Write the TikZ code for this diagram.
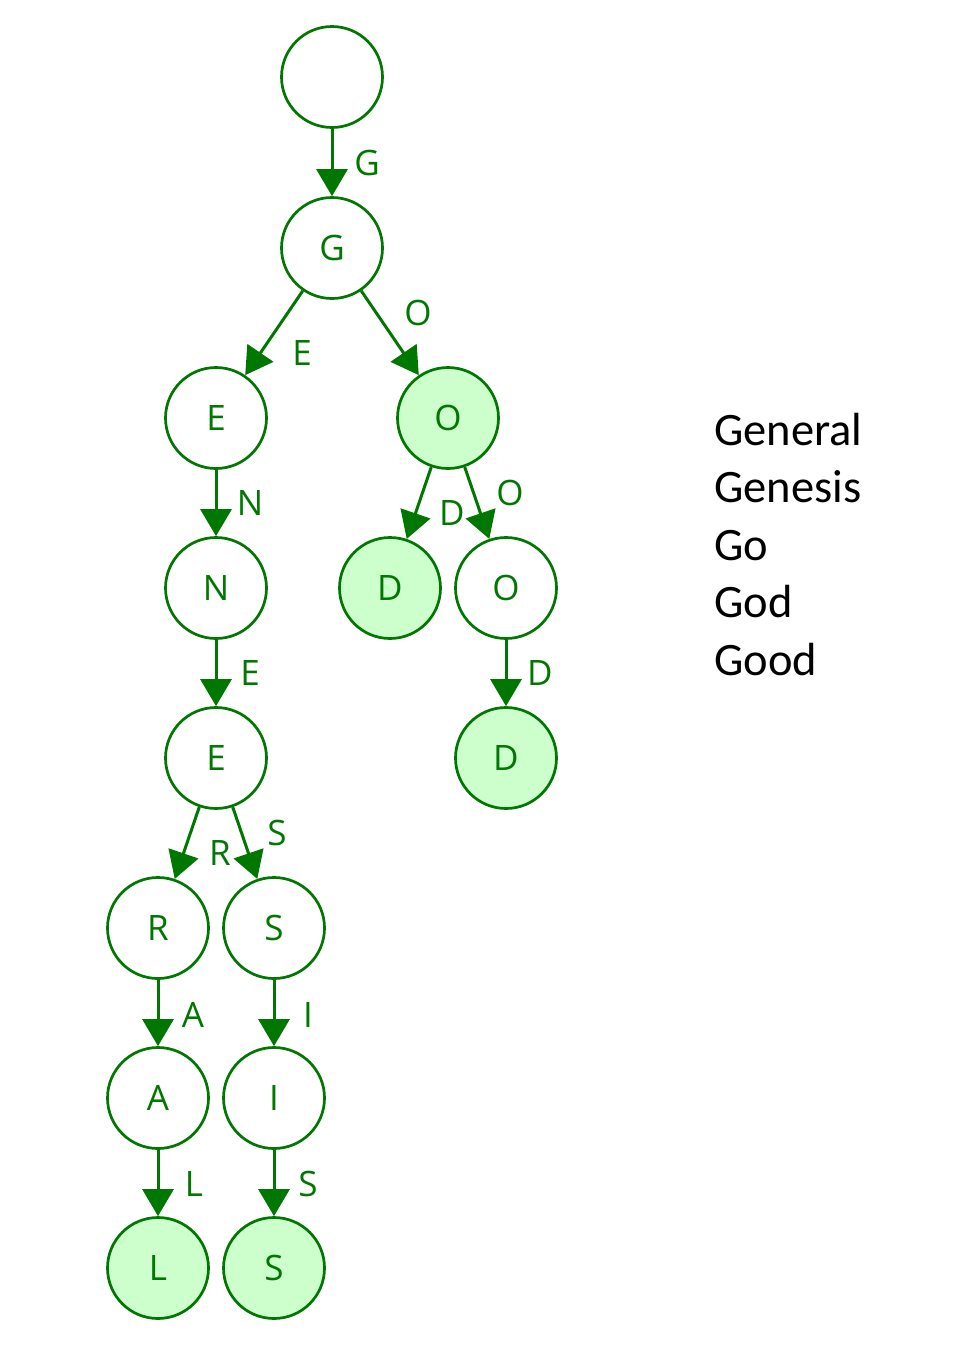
\documentclass[tikz,border=0pt]{standalone}
\usepackage{fontspec}
\setmainfont{Open Sans}
\newfontfamily\wordfont{Carlito}
\usetikzlibrary{arrows.meta}
\definecolor{tgreen}{HTML}{007700}
\definecolor{tfill}{HTML}{CCFFCC}
\tikzset{
  trie/.style={circle, draw=tgreen, line width=2.7pt, minimum size=101pt, inner sep=0pt,
    text=tgreen, font=\fontsize{35}{40}\selectfont},
  leafnode/.style={trie, fill=tfill},
  edgelab/.style={text=tgreen, font=\fontsize{35}{40}\selectfont, inner sep=0pt},
  tedge/.style={draw=tgreen, line width=3pt, -{Triangle[width=31pt,length=27pt]}},
  word/.style={anchor=base west, inner sep=0pt, font=\wordfont\fontsize{46.5}{50}\selectfont}
}
\begin{document}
\begin{tikzpicture}[x=1pt,y=-1pt]
\path[use as bounding box] (0,0) rectangle (958,1368);
% nodes
\node[trie] (root) at (332,77) {};
\node[trie] (g) at (332,248) {G};
\node[trie] (ge) at (216,418) {E};
\node[leafnode] (go) at (448,418) {O};
\node[trie] (gen) at (216,588) {N};
\node[leafnode] (god) at (390,588) {D};
\node[trie] (goo) at (506,588) {O};
\node[trie] (gene) at (216,758) {E};
\node[leafnode] (good) at (506,758) {D};
\node[trie] (gener) at (158,928) {R};
\node[trie] (genes) at (274,928) {S};
\node[trie] (genera) at (158,1098) {A};
\node[trie] (genesi) at (274,1098) {I};
\node[leafnode] (general) at (158,1268) {L};
\node[leafnode] (genesis) at (274,1268) {S};
% edges
\draw[tedge] (root) -- (g);
\draw[tedge] (g) -- (ge);
\draw[tedge] (g) -- (go);
\draw[tedge] (ge) -- (gen);
\draw[tedge] (go) -- (god);
\draw[tedge] (go) -- (goo);
\draw[tedge] (gen) -- (gene);
\draw[tedge] (goo) -- (good);
\draw[tedge] (gene) -- (gener);
\draw[tedge] (gene) -- (genes);
\draw[tedge] (gener) -- (genera);
\draw[tedge] (genes) -- (genesi);
\draw[tedge] (genera) -- (general);
\draw[tedge] (genesi) -- (genesis);
% edge labels
\node[edgelab] (l1) at (367,163) {G};
\node[edgelab] (l2) at (302,353) {E};
\node[edgelab] (l3) at (418,313) {O};
\node[edgelab] (l4) at (250,503) {N};
\node[edgelab] (l5) at (452,513) {D};
\node[edgelab] (l6) at (510,493) {O};
\node[edgelab] (l7) at (250,673) {E};
\node[edgelab] (l8) at (540,673) {D};
\node[edgelab] (l9) at (220,853) {R};
\node[edgelab] (l10) at (277,833) {S};
\node[edgelab] (l11) at (193,1015) {A};
\node[edgelab] (l12) at (308,1015) {I};
\node[edgelab] (l13) at (194,1184) {L};
\node[edgelab] (l14) at (308,1184) {S};
% word list
\node[word] (w1) at (714,445) {General};
\node[word] (w2) at (714,502) {Genesis};
\node[word] (w3) at (714,560) {Go};
\node[word] (w4) at (714,617) {God};
\node[word] (w5) at (714,675) {Good};
\end{tikzpicture}
\end{document}
